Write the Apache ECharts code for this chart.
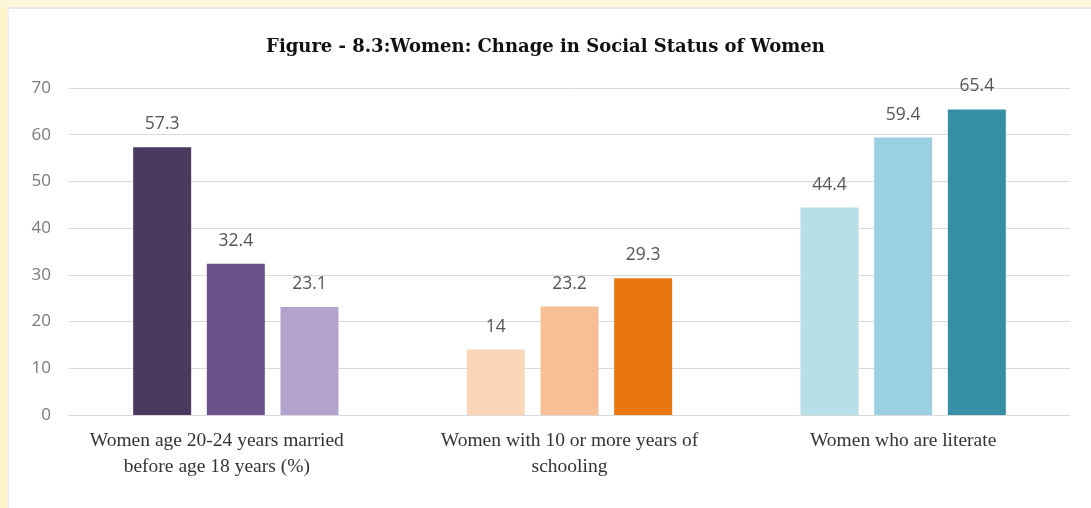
<!DOCTYPE html>
<html><head><meta charset="utf-8">
<script src="https://cdn.jsdelivr.net/npm/echarts@6/dist/echarts.min.js"></script>
<style>html,body{margin:0;padding:0;background:#fff}#c{width:1091px;height:508px}</style>
</head><body><div id="c"></div>
<script>
const categories = ['Women age 20-24 years married\nbefore age 18 years (%)', 'Women with 10 or more years of\nschooling', 'Women who are literate'];
const bar1Values = [57.3, 14, 44.4];
const bar2Values = [32.4, 23.2, 59.4];
const bar3Values = [23.1, 29.3, 65.4];
const yTicks = [0, 10, 20, 30, 40, 50, 60, 70];
const titleText = 'Figure - 8.3:Women: Chnage in Social Status of Women';

const colors = [
  ['#4a3a5f', '#f9d5b9', '#b8dee7'],
  ['#6b528a', '#f8bf95', '#9bcfe2'],
  ['#b3a3cc', '#e8770f', '#378fa5']
];
const vals = [bar1Values, bar2Values, bar3Values];

const labelStyle = { fontFamily: 'Liberation Serif', fontSize: 19.5, color: '#333', lineHeight: 26, align: 'center' };

const chart = echarts.init(document.getElementById('c'));
chart.setOption({
  animation: false,
  backgroundColor: '#ffffff',
  title: {
    text: titleText, left: 'center', top: 33,
    textStyle: { fontFamily: 'DejaVu Serif', fontWeight: 'bold', fontSize: 18, color: '#111' }
  },
  graphic: [
    { type: 'rect', shape: { x: 0, y: 0, width: 7, height: 508 }, style: { fill: '#fdf5c8' } },
    { type: 'rect', shape: { x: 0, y: 0, width: 1091, height: 7 }, style: { fill: '#fdf8dc' } },
    { type: 'rect', shape: { x: 7, y: 7, width: 1084, height: 2 }, style: { fill: '#e8e8e8' } },
    { type: 'rect', shape: { x: 7, y: 7, width: 2, height: 501 }, style: { fill: '#eeeeee' } }
  ],
  grid: { left: 69, right: 21, top: 88, bottom: 93, containLabel: false },
  xAxis: {
    type: 'category', data: categories,
    axisLine: { show: true, lineStyle: { color: '#d9d9d9', width: 1 } },
    axisTick: { show: false },
    axisLabel: {
      interval: 0, margin: 13,
      formatter: (v, i) => (i === 0 ? '{a|' + v.split('\n').join('}\n{a|') + '}' : '{b|' + v.split('\n').join('}\n{b|') + '}'),
      rich: {
        a: Object.assign({}, labelStyle, { padding: [0, 38, 0, 0] }),
        b: Object.assign({}, labelStyle)
      }
    }
  },
  yAxis: {
    type: 'value', min: yTicks[0], max: yTicks[yTicks.length - 1], interval: 10,
    axisLine: { show: false }, axisTick: { show: false },
    axisLabel: { fontFamily: 'Open Sans', fontSize: 17, color: '#7a7a7a', margin: 18 },
    splitLine: { lineStyle: { color: '#d9d9d9', width: 1 } }
  },
  series: vals.map((arr, s) => ({
    type: 'bar',
    barWidth: 58,
    barGap: '27%',
    data: arr.map((v, i) => ({ value: v, itemStyle: { color: colors[s][i] } })),
    label: {
      show: true, position: 'top', distance: 14,
      fontFamily: 'Open Sans', fontSize: 17.5, color: '#555'
    }
  }))
});
</script></body></html>
